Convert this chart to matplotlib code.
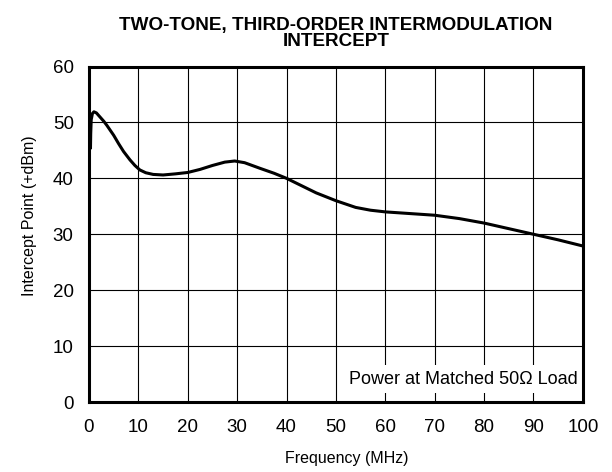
import matplotlib.pyplot as plt
from matplotlib.patches import Rectangle

# 读取的曲线数据 (频率 MHz, 截点 +dBm)
freq = [0.3, 0.35, 0.45, 0.7, 1.0, 1.5, 2.2, 3.0, 3.6, 5, 6, 7, 8.3, 9.3, 10.3, 11.5, 13, 15,
        17.5, 20, 22.5, 25, 27.5, 29.5, 31.5, 34.6, 37.5, 40, 43, 46, 50, 54, 57, 60,
        65, 70, 75, 80, 85, 90, 95, 100]
intercept = [45.2, 48, 50.5, 51.6, 51.9, 51.7, 51.0, 50.2, 49.5, 47.7, 46.2, 44.8, 43.3, 42.3, 41.5, 41.0, 40.7, 40.6,
             40.8, 41.05, 41.6, 42.3, 42.9, 43.1, 42.8, 41.8, 40.9, 40.0, 38.7, 37.4, 36.0, 34.8, 34.3, 34.0,
             33.7, 33.4, 32.8, 32.0, 31.0, 30.0, 29.0, 27.9]

xticks = list(range(0, 101, 10))
yticks = list(range(0, 61, 10))

plt.rcParams['font.family'] = ['Liberation Sans', 'DejaVu Sans']

fig = plt.figure(figsize=(6.12, 4.72), dpi=100)
ax = fig.add_axes([0.1454, 0.1483, 0.807, 0.7108])

ax.plot(freq, intercept, color='black', linewidth=2.2, solid_capstyle='butt', zorder=3)

ax.set_xlim(0, 100)
ax.set_ylim(0, 60)
ax.set_xticks(xticks)
ax.set_yticks(yticks)
ax.tick_params(length=0, labelsize=13.5)
ax.tick_params(axis='x', pad=12)
ax.tick_params(axis='y', pad=11)
ax.grid(True, color='black', linewidth=0.8)
for s in ax.spines.values():
    s.set_linewidth(2.2)
    s.set_zorder(5)

ax.set_xlabel('Frequency (MHz)', fontsize=11.5)
ax.set_ylabel('Intercept Point (+dBm)', fontsize=11.5)
ax.xaxis.set_label_coords(0.522, -0.145)
ax.yaxis.set_label_coords(-0.106, 0.554)
ax.set_title('TWO-TONE, THIRD-ORDER INTERMODULATION\nINTERCEPT',
             fontsize=13.6, fontweight='bold', linespacing=0.9, pad=15)

# 右下角说明框 (白底覆盖网格线)
ax.add_patch(Rectangle((0.504, 0.027), 0.496, 0.083, transform=ax.transAxes,
                       facecolor='white', edgecolor='none', zorder=4))
ax.text(0.99, 0.066, 'Power at Matched 50Ω Load', transform=ax.transAxes,
        ha='right', va='center', fontsize=13, zorder=5)

fig.savefig('out.png', dpi=100)
